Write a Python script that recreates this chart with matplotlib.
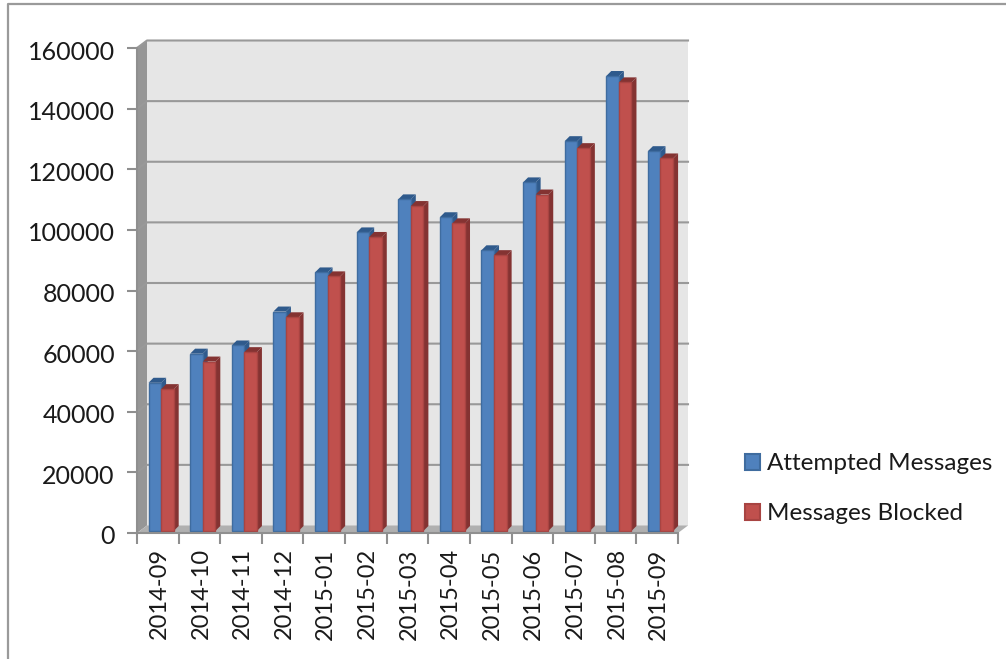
import matplotlib
matplotlib.use("Agg")
import matplotlib.pyplot as plt
from matplotlib.patches import Polygon, Rectangle
from matplotlib.transforms import ScaledTranslation

plt.rcParams['font.family'] = ['Lato', 'DejaVu Sans']

months = ["2014-09", "2014-10", "2014-11", "2014-12", "2015-01", "2015-02", "2015-03",
          "2015-04", "2015-05", "2015-06", "2015-07", "2015-08", "2015-09"]
attempted = [48900, 58500, 61200, 72400, 85300, 98500, 109400,
             103500, 92600, 115000, 128600, 150100, 125300]
blocked = [46800, 55900, 59000, 70500, 84000, 97000, 107200,
           101500, 91000, 111000, 126300, 148000, 122900]
yticks = list(range(0, 160001, 20000))

W, H = 1006, 659
fig = plt.figure(figsize=(W / 100, H / 100), dpi=100)

# border of the pasted screenshot
fig.add_artist(plt.Line2D([8 / W, 8 / W, 1], [0, 1 - 3.5 / H, 1 - 3.5 / H], color="#9a9a9a", lw=1.6))

# axes box is the front of the 3d box, pixels 137-678 and 533-48
ax = fig.add_axes([137 / W, 1 - 533 / H, 541 / W, 485 / H])
ax.set_xlim(0, 13)
ax.set_ylim(0, 160000)
ax.patch.set_visible(False)

# depth of the box, and of the bars, in data units
ux = 13 / 541
uy = 160000 / 485
dx, dy = 10 * ux, 7.5 * uy
bar_w = 12.6 * ux
bdx, bdy = 5 * ux, 5 * uy
base = 2 * uy

grid_c = "#999999"
ax.add_patch(Polygon([(dx, dy), (13 + dx, dy), (13 + dx, 160000 + dy), (dx, 160000 + dy)],
                     fc="#e6e6e6", ec="none", clip_on=False, zorder=1))
ax.add_patch(Polygon([(0, 0), (dx, dy), (dx, 160000 + dy), (0, 160000)],
                     fc="#969696", ec="none", clip_on=False, zorder=1))
ax.add_patch(Polygon([(0, 0), (13, 0), (13 + dx, dy), (dx, dy)],
                     fc="#b0b0b0", ec="none", clip_on=False, zorder=1.5))
for t in yticks[1:]:
    ax.plot([0, dx, 13 + dx], [t, t + dy, t + dy], color=grid_c, lw=1.5, clip_on=False, zorder=2)


def draw_bar(x, v, face, edge, side, top):
    z = 3 + x * 0.01
    y0 = base
    y1 = base + v
    ax.add_patch(Polygon([(x + bar_w, y0), (x + bar_w + bdx, y0 + bdy),
                          (x + bar_w + bdx, y1 + bdy), (x + bar_w, y1)],
                         fc=side, ec="none", clip_on=False, zorder=z))
    ax.add_patch(Polygon([(x, y1), (x + bdx, y1 + bdy), (x + bar_w + bdx, y1 + bdy), (x + bar_w, y1)],
                         fc=top, ec="none", clip_on=False, zorder=z))
    ax.add_patch(Rectangle((x, y0), bar_w, v, fc=face, ec=edge, lw=1, clip_on=False, zorder=z))


for i in range(len(months)):
    x0 = i + 11.5 * ux
    draw_bar(x0, attempted[i], "#4f81bd", "#3f6c9f", "#2f5a8c", "#2f5a8c")
    draw_bar(x0 + bar_w, blocked[i], "#c0504d", "#a84442", "#843332", "#843332")

for s in ["top", "right"]:
    ax.spines[s].set_visible(False)
for s in ["left", "bottom"]:
    ax.spines[s].set_color("#8f8f8f")
    ax.spines[s].set_linewidth(1.5)
    ax.spines[s].set_zorder(10)

ax.set_yticks(yticks)
ax.set_xticks(range(14))
ax.set_xticks([i + 0.5 for i in range(13)], minor=True)
ax.set_xticklabels([])
ax.set_xticklabels(months, minor=True, rotation=90)
ax.tick_params(axis="x", which="major", length=8, width=1.5, color="#8f8f8f")
ax.tick_params(axis="x", which="minor", length=0, pad=11, labelsize=17, labelcolor="#1a1a1a")
ax.tick_params(axis="y", length=7, width=1.5, color="#8f8f8f", pad=9, labelsize=18, labelcolor="#1a1a1a")

# nudge the labels a little, in pixels
for lab in ax.get_yticklabels():
    lab.set_transform(lab.get_transform() + ScaledTranslation(0, -2 / 100, fig.dpi_scale_trans))
for lab in ax.get_xticklabels(minor=True):
    lab.set_transform(lab.get_transform() + ScaledTranslation(1.5 / 100, 0, fig.dpi_scale_trans))

# legend
legend_items = [("Attempted Messages", "#4f81bd", "#3f6c9f", 462), ("Messages Blocked", "#c0504d", "#a84442", 512)]
for label, face, edge, py in legend_items:
    fig.add_artist(Rectangle((745 / W, 1 - (py + 8) / H), 15 / W, 16 / H, fc=face, ec=edge, lw=1.5,
                             transform=fig.transFigure))
    fig.text(767 / W, 1 - (py + 2) / H, label, fontsize=17.5, color="#1a1a1a", va="center", ha="left")

fig.savefig("out.png", dpi=100)
